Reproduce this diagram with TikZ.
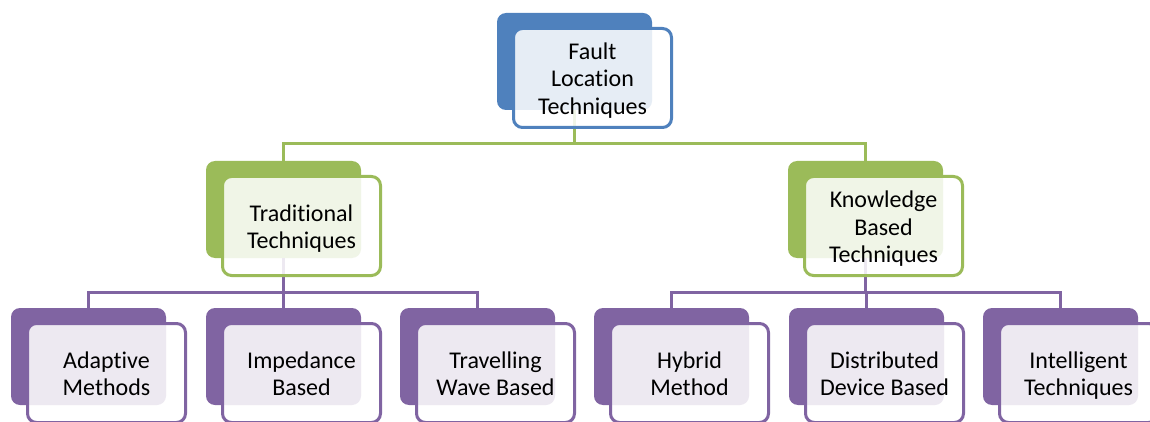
\documentclass[tikz,border=0pt]{standalone}
\usepackage{fontspec}
\setmainfont[Ligatures={NoCommon,NoRare},Contextuals=NoAlternate]{Carlito}
\definecolor{ablue}{HTML}{4F81BD}
\definecolor{agreen}{HTML}{9BBB59}
\definecolor{apurple}{HTML}{8064A2}
\tikzset{
  backbox/.style={draw=none, fill=#1, rounded corners=9pt,
    minimum width=155pt, minimum height=97pt, inner sep=0pt},
  frontbox/.style={draw=#1, line width=3pt, fill=white, fill opacity=0.86,
    rounded corners=9pt, minimum width=158pt, minimum height=99pt,
    inner sep=0pt},
  cardtext/.style={align=center, inner sep=0pt,
    font=\fontsize{24}{27.5}\selectfont},
  link/.style={draw=#1, line width=3pt},
}
% solid coloured card, top left corner at (#2,#3)
\newcommand\backcard[4]{%
  \node[backbox=#4] (#1b) at ({#2+77.5},{#3+48.5}) {};}
% lighter card laid over it, offset down and right, with its caption
\newcommand\frontcard[5]{%
  \node[frontbox=#4] (#1f) at ({#2+95.5},{#3+65}) {};
  \node[cardtext] (#1t) at ([yshift=-3.5pt]#1f.center) {#5};}
\begin{document}
\begin{tikzpicture}[x=1pt,y=-1pt]
\useasboundingbox (0,0) rectangle (1150,422);
\clip (0,0) rectangle (1150,422);
\coordinate (bus1) at (0,144);
\coordinate (bus2) at (0,292);
% solid cards
\backcard{top}{497}{13}{ablue}
\backcard{trad}{206}{161}{agreen}
\backcard{know}{788}{161}{agreen}
\backcard{ada}{11}{308}{apurple}
\backcard{imp}{206}{308}{apurple}
\backcard{trav}{400}{308}{apurple}
\backcard{hyb}{594}{308}{apurple}
\backcard{dist}{789}{308}{apurple}
\backcard{int}{983}{308}{apurple}
% tree connectors
\draw[link=agreen] (topb.south) -- (topb.south |- bus1);
\draw[link=agreen] (tradb.north) |- (knowb.north |- bus1) -- (knowb.north);
\draw[link=apurple] (tradb.south) -- (tradb.south |- bus2);
\draw[link=apurple] (adab.north) |- (travb.north |- bus2) -- (travb.north);
\draw[link=apurple] (impb.north) -- (impb.north |- bus2);
\draw[link=apurple] (knowb.south) -- (knowb.south |- bus2);
\draw[link=apurple] (hybb.north) |- (intb.north |- bus2) -- (intb.north);
\draw[link=apurple] (distb.north) -- (distb.north |- bus2);
% light cards with captions
\frontcard{top}{497}{13}{ablue}{\strut Fault\\\strut Location\\\strut Techniques}
\frontcard{trad}{206}{161}{agreen}{\strut Traditional\\\strut Techniques}
\frontcard{know}{788}{161}{agreen}{\strut Knowledge\\\strut Based\\\strut Techniques}
\frontcard{ada}{11}{308}{apurple}{\strut Adaptive\\\strut Methods}
\frontcard{imp}{206}{308}{apurple}{\strut Impedance\\\strut Based}
\frontcard{trav}{400}{308}{apurple}{\strut Travelling\\\strut Wave Based}
\frontcard{hyb}{594}{308}{apurple}{\strut Hybrid\\\strut Method}
\frontcard{dist}{789}{308}{apurple}{\strut Distributed\\\strut Device Based}
\frontcard{int}{983}{308}{apurple}{\strut Intelligent\\\strut Techniques}
\end{tikzpicture}
\end{document}
